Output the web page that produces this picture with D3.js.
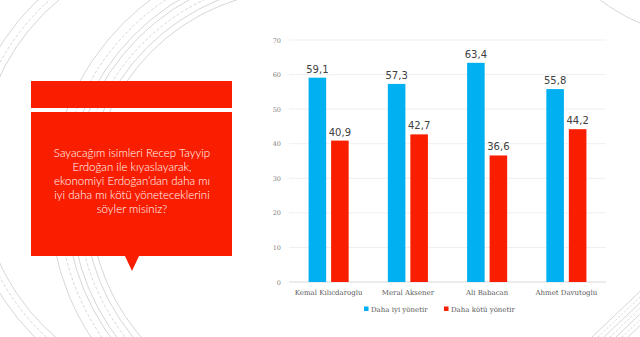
<!DOCTYPE html>
<html>
<head>
<meta charset="utf-8">
<script src="https://cdn.jsdelivr.net/npm/d3@7"></script>
<style>
  body { margin: 0; background: #fff; }
  svg { display: block; }
</style>
</head>
<body>
<div id="viz"></div>
<script>
// data
const candidates = ["Kemal Kılıcdaroglu", "Meral Aksener", "Ali Babacan", "Ahmet Davutoglu"]
const seriesNames = ["Daha iyi yönetir", "Daha kötü yönetir"]
const better = [59.1, 57.3, 63.4, 55.8]
const worse = [40.9, 42.7, 36.6, 44.2]
const yTicks = [0, 10, 20, 30, 40, 50, 60, 70]
const question = ["Sayacağım isimleri Recep  Tayyip", "Erdoğan ile kıyaslayarak,",
  "ekonomiyi Erdoğan’dan daha mı", "iyi daha mı kötü yöneteceklerini", "söyler misiniz?"]

const width = 640
const height = 337
const margin = {left: 289, top: 40, right: 34, bottom: 55}
const g_width = width - margin.left - margin.right
const g_height = height - margin.top - margin.bottom

const blue = "#00b0f0"
const red = "#f91e00"
const serif = "'DejaVu Serif', serif"

const svg = d3.select("#viz").append("svg")
    .attr("width", width)
    .attr("height", height)

// faint decorative arcs in the background
const deco = svg.append("g").attr("fill", "none").attr("stroke", "#cccccc").attr("stroke-width", 0.8)
svg.append("clipPath").attr("id", "leftclip")
    .append("rect").attr("x", 0).attr("y", 0).attr("width", 252).attr("height", height)
const arcs = deco.append("g").attr("clip-path", "url(#leftclip)")

// outer group of rings
const outerRadii = [221, 227, 235]
outerRadii.forEach(function(r, i) {
    arcs.append("circle")
        .attr("cx", 200).attr("cy", 170).attr("r", r)
        .attr("stroke-dasharray", i == 1 ? "3,2" : null)
})
// inner group of rings
const innerRadii = [210, 216, 222, 229, 234, 241, 250]
innerRadii.forEach(function(r, i) {
    arcs.append("circle")
        .attr("cx", 300).attr("cy", 200).attr("r", r)
        .attr("stroke-dasharray", i % 3 == 2 ? "3,2" : null)
})
deco.append("circle").attr("cx", 720).attr("cy", -160).attr("r", 200)
for (let i = 0; i < 7; i++) {
    deco.append("line")
        .attr("x1", 592 + i * 6).attr("y1", 337)
        .attr("x2", 652 + i * 6).attr("y2", 280)
        .attr("stroke-dasharray", i % 2 ? "2,2" : null)
}

// question box on the left
const box = svg.append("g")
box.append("rect").attr("x", 31).attr("y", 81).attr("width", 201).attr("height", 27).attr("fill", red)
box.append("rect").attr("x", 31).attr("y", 112).attr("width", 201).attr("height", 144).attr("fill", red)
box.append("path").attr("d", "M125,256 L139,256 L132,271 Z").attr("fill", red)
box.append("text")
    .attr("text-anchor", "middle")
    .attr("font-family", "Lato, 'Open Sans', sans-serif")
    .attr("font-weight", 300)
    .attr("font-size", 11.5)
    .attr("fill", "#fff")
    .selectAll("tspan")
    .data(question)
    .enter()
    .append("tspan")
    .attr("x", 132)
    .attr("y", function(d, i) { return 157 + i * 14 })
    .text(function(d) { return d })

const g = svg.append("g")
    .attr("transform", "translate(" + margin.left + "," + margin.top + ")")

// scales
const x0 = d3.scaleBand().domain(candidates).range([0, g_width])
const x1 = d3.scaleBand().domain(seriesNames).range([0, x0.bandwidth()])
    .paddingInner(0.22).paddingOuter(0.87)
const y = d3.scaleLinear().domain([0, 70]).range([g_height, 0])
const color = d3.scaleOrdinal().domain(seriesNames).range([blue, red])

// gridlines
g.append("g")
    .selectAll("line")
    .data(yTicks)
    .enter()
    .append("line")
    .attr("x1", 0)
    .attr("x2", g_width)
    .attr("y1", function(d) { return y(d) })
    .attr("y2", function(d) { return y(d) })
    .attr("stroke", function(d) { return d == 0 ? "#d9d9d9" : "#efefef" })
    .attr("stroke-width", 1)

// y axis labels
const yAxis = g.append("g")
    .call(d3.axisLeft(y).tickValues(yTicks).tickSize(0).tickPadding(8))
yAxis.select(".domain").remove()
yAxis.selectAll("text")
    .attr("font-family", serif)
    .attr("font-size", 6.5)
    .attr("fill", "#7f7f7f")

// x axis labels
const xAxis = g.append("g")
    .attr("transform", "translate(0," + g_height + ")")
    .call(d3.axisBottom(x0).tickSize(0).tickPadding(8))
xAxis.select(".domain").remove()
xAxis.selectAll("text")
    .attr("font-family", serif)
    .attr("font-size", 7)
    .attr("fill", "#595959")

// bars
const rows = candidates.map(function(c, i) {
    return {name: c, values: [{key: seriesNames[0], v: better[i]}, {key: seriesNames[1], v: worse[i]}]}
})
const groups = g.selectAll(".grp")
    .data(rows)
    .enter()
    .append("g")
    .attr("class", "grp")
    .attr("transform", function(d) { return "translate(" + x0(d.name) + ",0)" })

groups.selectAll("rect")
    .data(function(d) { return d.values })
    .enter()
    .append("rect")
    .attr("x", function(d) { return x1(d.key) })
    .attr("y", function(d) { return y(d.v) })
    .attr("width", x1.bandwidth())
    .attr("height", function(d) { return g_height - y(d.v) })
    .attr("fill", function(d) { return color(d.key) })

groups.selectAll(".val")
    .data(function(d) { return d.values })
    .enter()
    .append("text")
    .attr("class", "val")
    .attr("x", function(d) { return x1(d.key) + x1.bandwidth() / 2 })
    .attr("y", function(d) { return y(d.v) - 5 })
    .attr("text-anchor", "middle")
    .attr("font-family", "'DejaVu Sans', sans-serif")
    .attr("font-size", 10)
    .attr("fill", "#404040")
    .text(function(d) { return d3.format(".1f")(d.v).replace(".", ",") })

// legend
const legend = svg.append("g")
    .attr("transform", "translate(364,309)")
const legendX = [0, 80]
seriesNames.forEach(function(s, i) {
    const item = legend.append("g").attr("transform", "translate(" + legendX[i] + ",0)")
    item.append("rect").attr("x", 0).attr("y", -2.5).attr("width", 4.5).attr("height", 4.5).attr("fill", color(s))
    item.append("text")
        .attr("x", 7)
        .attr("y", 2.5)
        .attr("font-family", serif)
        .attr("font-size", 7)
        .attr("fill", "#595959")
        .text(s)
})
</script>
</body>
</html>
